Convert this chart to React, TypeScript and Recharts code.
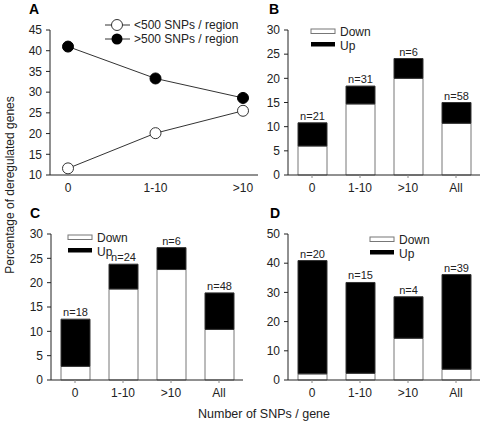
import React from 'react';
import { ComposedChart, BarChart, Bar, Line, XAxis, YAxis, LabelList } from 'recharts';

// panel A
const lineCats = ['0', '1-10', '>10'];
const below500 = [11.6, 20.1, 25.5];
const above500 = [41.0, 33.3, 28.6];
const ticksA = [10, 15, 20, 25, 30, 35, 40, 45];

// panels B-D
const barCats = ['0', '1-10', '>10', 'All'];
const downB = [6.0, 14.7, 20.0, 10.7];
const upB = [4.8, 3.7, 4.1, 4.3];
const nB = ['n=21', 'n=31', 'n=6', 'n=58'];

const downC = [2.8, 18.7, 22.7, 10.4];
const upC = [9.7, 5.1, 4.5, 7.5];
const nC = ['n=18', 'n=24', 'n=6', 'n=48'];

const downD = [2.1, 2.3, 14.3, 3.7];
const upD = [38.8, 31.1, 14.2, 32.4];
const nD = ['n=20', 'n=15', 'n=4', 'n=39'];

const ticks30 = [0, 5, 10, 15, 20, 25, 30];
const ticks50 = [0, 10, 20, 30, 40, 50];

const FONT = '"Liberation Sans", Arial, sans-serif';
const INK = '#222';
const tickStyle = { fill: INK, fontSize: 12, fontFamily: FONT };

const lineData = lineCats.map((cat, i) => ({ cat, low: below500[i], high: above500[i] }));
const mkBars = (down: number[], up: number[], n: string[]) =>
  barCats.map((cat, i) => ({ cat, down: down[i], up: up[i], n: n[i] }));

type PanelProps = {
  data: any[];
  left: number;
  top: number;
  yWidth: number;
  marginTop: number;
  height: number;
  ticks: number[];
};

const BarPanel = ({ data, left, top, yWidth, marginTop, height, ticks }: PanelProps) => (
  <div style={{ position: 'absolute', left, top }}>
    <BarChart
      width={243}
      height={height}
      data={data}
      margin={{ top: marginTop, right: 243 - yWidth - 192, bottom: 0, left: 0 }}
    >
      <XAxis
        dataKey="cat"
        height={25}
        tick={tickStyle}
        tickSize={3}
        tickMargin={5}
        axisLine={{ stroke: INK }}
        tickLine={{ stroke: '#888' }}
      />
      <YAxis
        width={yWidth}
        domain={[ticks[0], ticks[ticks.length - 1]]}
        ticks={ticks}
        interval={0}
        tick={tickStyle}
        tickSize={4}
        tickMargin={4}
        axisLine={{ stroke: INK }}
        tickLine={{ stroke: INK }}
      />
      <Bar dataKey="down" stackId="s" fill="#fff" stroke="#777" barSize={29} isAnimationActive={false} />
      <Bar dataKey="up" stackId="s" fill="#000" stroke="#333" barSize={29} isAnimationActive={false}>
        <LabelList dataKey="n" position="top" offset={3} style={{ fill: INK, fontSize: 11, fontFamily: FONT }} />
      </Bar>
    </BarChart>
  </div>
);

const BarLegend = ({ x, y }: { x: number; y: number }) => (
  <g fontFamily={FONT} fontSize={12} fill={INK}>
    <rect x={x} y={y} width={24} height={4.5} fill="#fff" stroke="#777" />
    <text x={x + 29} y={y + 7}>Down</text>
    <rect x={x} y={y + 13} width={24} height={4.5} fill="#000" />
    <text x={x + 29} y={y + 21}>Up</text>
  </g>
);

export default function App() {
  return (
    <div style={{ position: 'absolute', left: 0, top: 0, width: 483, height: 424, background: '#fff' }}>
      <div style={{ position: 'absolute', left: 0, top: 0 }}>
        <ComposedChart width={260} height={200} data={lineData} margin={{ top: 30, right: 2, bottom: 0, left: 0 }}>
          <XAxis
            dataKey="cat"
            height={25}
            padding={{ left: 18, right: 15 }}
            tick={tickStyle}
            tickSize={3}
            tickMargin={5}
            axisLine={{ stroke: INK }}
            tickLine={false}
          />
          <YAxis
            width={50}
            domain={[10, 45]}
            ticks={ticksA}
            interval={0}
            tick={tickStyle}
            tickSize={4}
            tickMargin={4}
            axisLine={{ stroke: INK }}
            tickLine={{ stroke: INK }}
          />
          <Line
            dataKey="high"
            stroke="#333"
            strokeWidth={1}
            dot={{ r: 5.5, fill: '#000', stroke: '#000', strokeWidth: 1 }}
            isAnimationActive={false}
          />
          <Line
            dataKey="low"
            stroke="#333"
            strokeWidth={1}
            dot={{ r: 5.5, fill: '#fff', stroke: '#333', strokeWidth: 1 }}
            isAnimationActive={false}
          />
        </ComposedChart>
      </div>

      <BarPanel data={mkBars(downB, upB, nB)} left={240} top={0} yWidth={48} marginTop={30} height={200} ticks={ticks30} />
      <BarPanel data={mkBars(downC, upC, nC)} left={0} top={200} yWidth={51} marginTop={34} height={205} ticks={ticks30} />
      <BarPanel data={mkBars(downD, upD, nD)} left={240} top={200} yWidth={48} marginTop={34} height={205} ticks={ticks50} />

      <svg
        width={483}
        height={424}
        style={{ position: 'absolute', left: 0, top: 0, pointerEvents: 'none' }}
      >
        <g fontFamily={FONT} fontWeight="bold" fontSize={14} fill="#000">
          <text x={29} y={14}>A</text>
          <text x={269} y={14}>B</text>
          <text x={30} y={218}>C</text>
          <text x={270} y={218}>D</text>
        </g>

        <g fontFamily={FONT} fontSize={12} fill={INK}>
          <line x1={105} y1={25} x2={130} y2={25} stroke="#333" />
          <circle cx={117} cy={25} r={5.5} fill="#fff" stroke="#333" />
          <text x={134} y={29}>&lt;500 SNPs / region</text>
          <line x1={105} y1={39} x2={130} y2={39} stroke="#333" />
          <circle cx={117} cy={39} r={5.5} fill="#000" />
          <text x={134} y={43}>&gt;500 SNPs / region</text>
        </g>

        <BarLegend x={311} y={29} />
        <BarLegend x={68} y={235} />
        <BarLegend x={370} y={237} />

        <text
          transform="translate(14,185) rotate(-90)"
          textAnchor="middle"
          fontFamily={FONT}
          fontSize={12}
          fill={INK}
        >
          Percentage of deregulated genes
        </text>
        <text x={264} y={418} textAnchor="middle" fontFamily={FONT} fontSize={12.5} fill={INK}>
          Number of SNPs / gene
        </text>
      </svg>
    </div>
  );
}
